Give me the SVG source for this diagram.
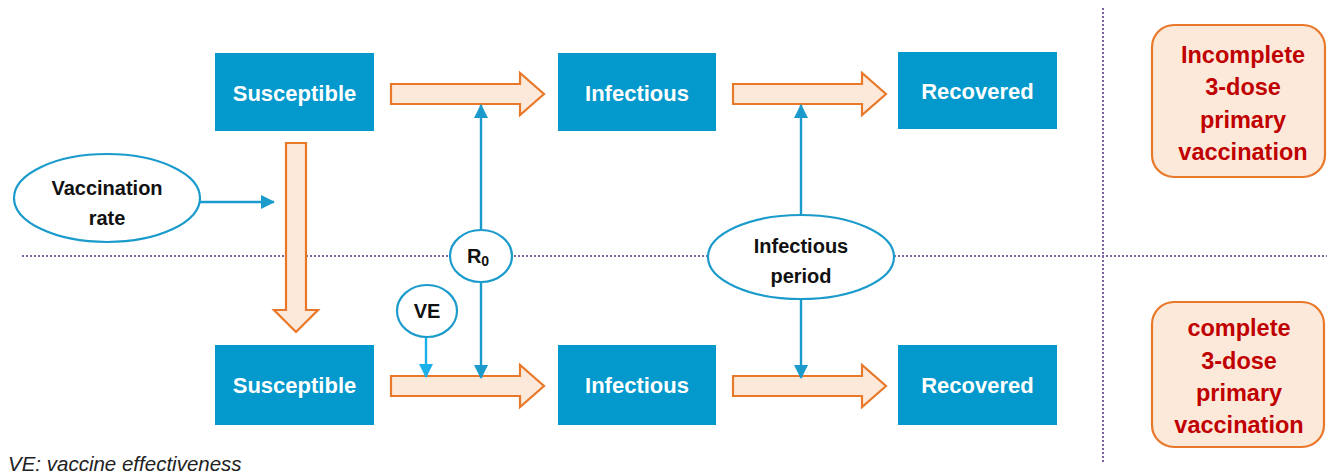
<svg xmlns="http://www.w3.org/2000/svg" width="1327" height="476" viewBox="0 0 1327 476">
<style>
.box{fill:#0399cc}
.bt{font-family:"Liberation Sans",Arial,sans-serif;font-weight:bold;font-size:22px;fill:#fff;text-anchor:middle}
.fat{fill:#fde9da;stroke:#e8782a;stroke-width:2.2;stroke-linejoin:miter}
.ell{fill:#fff;stroke:#1a9bcc;stroke-width:2.2}
.et{font-family:"Liberation Sans",Arial,sans-serif;font-weight:bold;font-size:20px;fill:#111;text-anchor:middle}
.ln{stroke:#1a9bcc;stroke-width:2.4;fill:none}
.dot{stroke:#8064a2;stroke-width:2;stroke-dasharray:2 2;fill:none}
.rb{fill:#fde9da;stroke:#e8782a;stroke-width:2.2}
.rt{font-family:"Liberation Sans",Arial,sans-serif;font-weight:bold;font-size:23.5px;fill:#c00000;text-anchor:middle}
</style>
<defs>
<marker id="ah" markerWidth="14" markerHeight="14" refX="13" refY="7" orient="auto" markerUnits="userSpaceOnUse" viewBox="0 0 14 14"><path d="M0,0 L14,7 L0,14 Z" fill="#1a9bcc"/></marker>
<marker id="ah2" markerWidth="14" markerHeight="14" refX="13" refY="7" orient="auto" markerUnits="userSpaceOnUse" viewBox="0 0 14 14"><path d="M0,0 L14,7 L0,14 Z" fill="#1ab0ea"/></marker>
</defs>
<g id="dividers">
<line class="dot" x1="22" y1="256" x2="1327" y2="256"/>
<line class="dot" x1="1103" y1="8" x2="1103" y2="462"/>
</g>
<g id="connectors">
<path class="fat" d="M391,84 H520 V73 L544,94 L520,115 V104 H391 Z"/>
<path class="fat" d="M733,84 H862 V73 L886,94 L862,115 V104 H733 Z"/>
<path class="fat" d="M391,376 H520 V365 L544,386 L520,407 V396 H391 Z"/>
<path class="fat" d="M733,376 H862 V365 L886,386 L862,407 V396 H733 Z"/>
<path class="fat" d="M286,143 H306 V310 H318 L296,332 L274,310 H286 Z"/>
<line class="ln" x1="200" y1="202" x2="274" y2="202" marker-end="url(#ah)"/>
<line class="ln" x1="481" y1="230" x2="481" y2="105" marker-end="url(#ah)"/>
<line class="ln" x1="481" y1="282" x2="481" y2="378" marker-end="url(#ah)"/>
<line x1="426" y1="337" x2="426" y2="377" stroke="#1ab0ea" stroke-width="2.4" marker-end="url(#ah2)"/>
<line class="ln" x1="801" y1="215" x2="801" y2="105" marker-end="url(#ah)"/>
<line class="ln" x1="801" y1="299" x2="801" y2="378" marker-end="url(#ah)"/>
</g>
<g id="susceptible-top"><rect class="box" x="215" y="53" width="159" height="78"/><text class="bt" x="294.5" y="101">Susceptible</text></g>
<g id="infectious-top"><rect class="box" x="558" y="53" width="158" height="78"/><text class="bt" x="637" y="101">Infectious</text></g>
<g id="recovered-top"><rect class="box" x="898" y="52" width="159" height="77"/><text class="bt" x="977.5" y="99">Recovered</text></g>
<g id="susceptible-bottom"><rect class="box" x="215" y="345" width="159" height="80"/><text class="bt" x="294.5" y="393">Susceptible</text></g>
<g id="infectious-bottom"><rect class="box" x="558" y="345" width="158" height="80"/><text class="bt" x="637" y="393">Infectious</text></g>
<g id="recovered-bottom"><rect class="box" x="898" y="345" width="159" height="80"/><text class="bt" x="977.5" y="393">Recovered</text></g>
<g id="vaccination-rate"><ellipse class="ell" cx="107" cy="198" rx="93" ry="44"/><text class="et" x="107" y="195">Vaccination</text><text class="et" x="107" y="225">rate</text></g>
<g id="r0"><ellipse class="ell" cx="481" cy="256" rx="31" ry="26"/><text class="et" x="478" y="263">R<tspan font-size="14" dy="3">0</tspan></text></g>
<g id="ve"><ellipse class="ell" cx="427" cy="311" rx="30" ry="26"/><text class="et" x="427" y="318">VE</text></g>
<g id="infectious-period"><ellipse class="ell" cx="801" cy="257" rx="93" ry="42"/><text class="et" x="801" y="253">Infectious</text><text class="et" x="801" y="283">period</text></g>
<g id="incomplete"><rect class="rb" x="1152" y="25" width="173" height="152" rx="22"/>
<text class="rt" x="1243" y="63">Incomplete</text><text class="rt" x="1243" y="95">3-dose</text><text class="rt" x="1243" y="128">primary</text><text class="rt" x="1243" y="160">vaccination</text></g>
<g id="complete"><rect class="rb" x="1152" y="302" width="172" height="145" rx="22"/>
<text class="rt" x="1239" y="336">complete</text><text class="rt" x="1239" y="369">3-dose</text><text class="rt" x="1239" y="401">primary</text><text class="rt" x="1239" y="433">vaccination</text></g>
<text x="8" y="471" font-family="'Liberation Sans',Arial,sans-serif" font-style="italic" font-size="20.5" fill="#222">VE: vaccine effectiveness</text>
</svg>
